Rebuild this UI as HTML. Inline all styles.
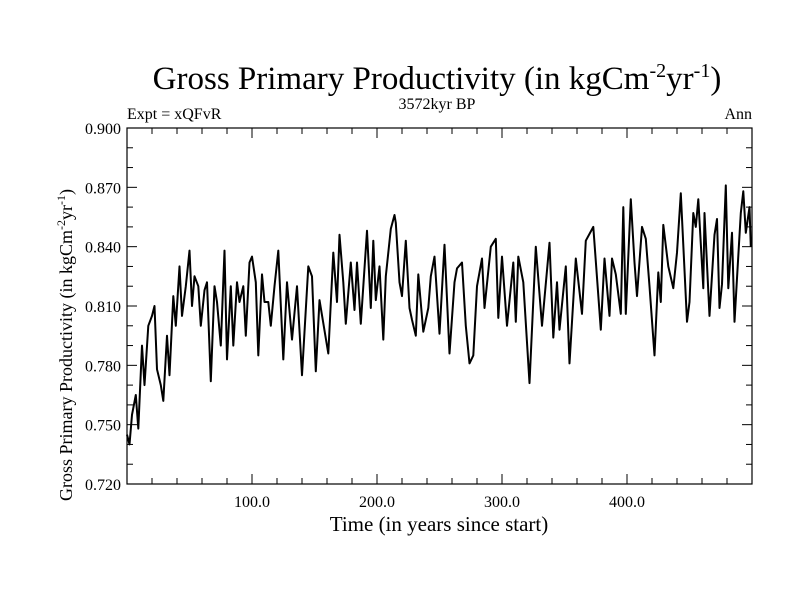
<!DOCTYPE html>
<html><head><meta charset="utf-8"><style>
html,body{margin:0;padding:0;background:#fff;}
svg{display:block;font-family:"Liberation Serif",serif;}
</style></head><body>
<svg id="chart" width="800" height="600" viewBox="0 0 800 600">
<rect width="800" height="600" fill="#fff"/>
<text x="437" y="89" font-size="33" text-anchor="middle">Gross Primary Productivity (in kgCm<tspan dy="-12" font-size="20">-2</tspan><tspan dy="12">yr</tspan><tspan dy="-12" font-size="20">-1</tspan><tspan dy="12">)</tspan></text>
<text x="437" y="109" font-size="16" text-anchor="middle">3572kyr BP</text>
<text x="127" y="119" font-size="16">Expt = xQFvR</text>
<text x="752" y="119" font-size="16" text-anchor="end">Ann</text>
<text x="439" y="531" font-size="21" text-anchor="middle">Time (in years since start)</text>
<text transform="translate(72,345) rotate(-90)" font-size="18" text-anchor="middle">Gross Primary Productivity (in kgCm<tspan dy="-7" font-size="12">-2</tspan><tspan dy="7">yr</tspan><tspan dy="-7" font-size="12">-1</tspan><tspan dy="7">)</tspan></text>
<g id="axes"></g>
<path id="series" fill="none" stroke="#000" stroke-width="2" stroke-linejoin="round"/>
<rect x="127" y="128" width="625" height="356" fill="none" stroke="#000" stroke-width="1.2"/>
</svg>
<script>
const years = [0,2,4,7,9,12,14,17,20,22,24,27,29,32,34,37,39,42,44,47,50,52,54,57,59,62,64,67,70,72,75,78,80,83,85,88,90,93,95,98,100,103,105,108,110,113,115,118,121,125,128,132,136,140,145,148,151,154,161,165,168,170,173,175,179,182,184,187,192,195,197,199,202,205,207,211,214,215,218,220,223,226,228,231,233,237,241,243,246,250,254,258,262,264,268,271,274,277,280,284,286,291,295,297,300,304,309,311,313,317,322,327,332,338,341,344,346,351,354,359,364,367,373,379,382,386,388,391,395,397,399,403,406,408,412,415,418,422,425,427,429,433,437,440,443,448,450,453,455,457,461,462,466,470,472,474,476,479,481,484,486,488,491,493,495,498,499];
const gpp = [0.745,0.740,0.755,0.765,0.748,0.790,0.770,0.800,0.805,0.810,0.778,0.770,0.762,0.795,0.775,0.815,0.800,0.830,0.805,0.820,0.838,0.810,0.825,0.820,0.800,0.818,0.822,0.772,0.820,0.812,0.790,0.838,0.783,0.820,0.790,0.822,0.812,0.820,0.795,0.832,0.835,0.822,0.785,0.826,0.812,0.812,0.800,0.820,0.838,0.783,0.822,0.793,0.820,0.775,0.830,0.825,0.777,0.813,0.786,0.837,0.812,0.846,0.822,0.801,0.832,0.808,0.832,0.801,0.848,0.809,0.843,0.813,0.830,0.793,0.825,0.849,0.856,0.852,0.822,0.815,0.843,0.809,0.803,0.795,0.826,0.797,0.809,0.825,0.835,0.796,0.841,0.786,0.822,0.829,0.832,0.800,0.781,0.785,0.820,0.834,0.809,0.840,0.844,0.804,0.835,0.800,0.832,0.802,0.835,0.822,0.771,0.840,0.800,0.842,0.794,0.822,0.798,0.830,0.781,0.834,0.806,0.843,0.850,0.798,0.834,0.805,0.834,0.826,0.806,0.860,0.806,0.864,0.832,0.815,0.850,0.844,0.820,0.785,0.827,0.812,0.851,0.830,0.819,0.837,0.867,0.802,0.812,0.857,0.850,0.864,0.819,0.857,0.805,0.846,0.854,0.809,0.821,0.871,0.819,0.847,0.802,0.824,0.857,0.868,0.847,0.860,0.840];
const yTicks = ["0.720","0.750","0.780","0.810","0.840","0.870","0.900"];
const xTicks = ["100.0","200.0","300.0","400.0"];

const X0=127,X1=752,Y0=484,Y1=128;
const xMin=0,xMax=500,yMin=0.72,yMax=0.90;
function xs(v){return X0+(v-xMin)/(xMax-xMin)*(X1-X0);}
function ys(v){return Y0-(v-yMin)/(yMax-yMin)*(Y0-Y1);}
const NS="http://www.w3.org/2000/svg";
const axes=document.getElementById('axes');
function line(x1,y1,x2,y2,name){
  const l=document.createElementNS(NS,'line');
  l.setAttribute('x1',x1);l.setAttribute('y1',y1);l.setAttribute('x2',x2);l.setAttribute('y2',y2);
  l.setAttribute('stroke','#000');l.setAttribute('stroke-width','1');
  
  
  axes.appendChild(l);
}
function text(x,y,s,anchor,name){
  const t=document.createElementNS(NS,'text');
  t.setAttribute('x',x);t.setAttribute('y',y);t.setAttribute('font-size','16');t.setAttribute('text-anchor',anchor);
  t.textContent=s;
  
  
  axes.appendChild(t);
}
for(let i=0;i<=18;i++){
  const v=yMin+i*0.01, y=ys(v), major=(i%3===0);
  const len=major?10:6;
  line(X0,y,X0+len,y,'y-tick');
  line(X1,y,X1-len,y,'y-tick-right');
}
yTicks.forEach(s=>{text(X0-6,ys(parseFloat(s))+6,s,'end','y-tick-label');});
for(let v=20;v<500;v+=20){
  const x=xs(v), major=(v%100===0), len=major?10:6;
  line(x,Y0,x,Y0-len,'x-tick');
  line(x,Y1,x,Y1+len,'x-tick-top');
}
xTicks.forEach(s=>{text(xs(parseFloat(s)),Y0+23,s,'middle','x-tick-label');});
let d='';
years.forEach((t,i)=>{d+=(i?'L':'M')+xs(t).toFixed(1)+','+ys(gpp[i]).toFixed(1);});
document.getElementById('series').setAttribute('d',d);
</script>
</body></html>
